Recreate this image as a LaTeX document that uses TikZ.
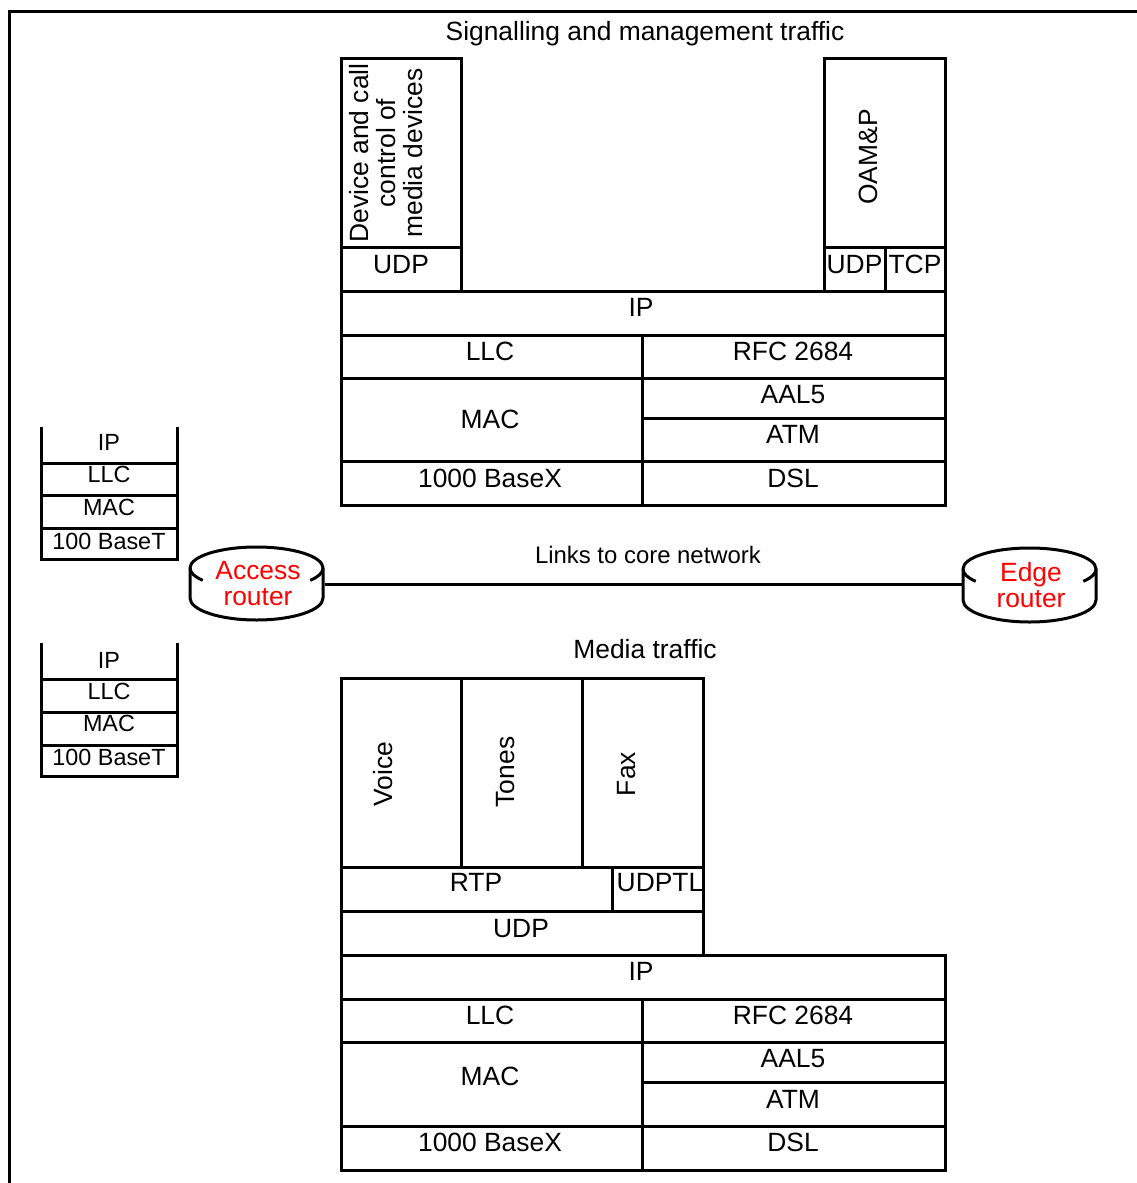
\documentclass[tikz,border=0pt]{standalone}
\usepackage{fontspec}
\setmainfont{Liberation Sans}
\begin{document}
\begin{tikzpicture}[x=1pt,y=-1pt,line width=3pt,
  lbl/.style={font=\fontsize{26.4}{27}\selectfont,inner sep=0pt,anchor=base},
  sml/.style={font=\fontsize{23.4}{26}\selectfont,inner sep=0pt,anchor=base},
  rot/.style={font=\fontsize{26.4}{27}\selectfont,inner sep=0pt,rotate=90,align=center},
  rtr/.style={font=\fontsize{26.4}{26}\selectfont,inner sep=0pt,text=red,align=center},
  cylbox/.style={minimum width=133pt,minimum height=76pt,inner sep=0pt}]
\useasboundingbox (0,0) rectangle (1137,1183);
% outer frame
\draw (9,1190) -- (9,11) -- (1145,11);

% ---------- top stack ----------
\node[lbl] (sigt) at (645,40.5) {Signalling and management traffic};
\draw (341,58) rectangle (461,291);
\draw (341,247) -- (461,247);
\draw (824,58) rectangle (945,291);
\draw (824,247) -- (945,247);
\draw (885,247) -- (885,291);
\draw (341,291) rectangle (945,505);
\draw (341,335) -- (945,335);
\draw (341,378) -- (945,378);
\draw (642,335) -- (642,505);
\draw (642,418) -- (945,418);
\draw (341,461) -- (945,461);
\node[rot] (dev) at (386,153) {Device and call\\control of\\media devices};
\node[rot] (oam) at (868,157) {OAM\&P};
\node[lbl] (udpa) at (401,273) {UDP};
\node[lbl] (udpb) at (854.5,273) {UDP};
\node[lbl] (tcpa) at (915,273) {TCP};
\node[lbl] (ipa) at (641,316.5) {IP};
\node[lbl] (llca) at (490,360.5) {LLC};
\node[lbl] (rfca) at (793,360.5) {RFC 2684};
\node[lbl] (aala) at (793,403.5) {AAL5};
\node[lbl] (maca) at (490,428.5) {MAC};
\node[lbl] (atma) at (793,443.5) {ATM};
\node[lbl] (gbea) at (490,487.5) {1000 BaseX};
\node[lbl] (dsla) at (793,487.5) {DSL};

% ---------- left stacks ----------
\draw (41,427) -- (41,559) -- (177,559) -- (177,427);
\draw (41,463) -- (177,463);
\draw (41,495) -- (177,495);
\draw (41,528) -- (177,528);
\node[sml] (lip1) at (109,450.5) {IP};
\node[sml] (lllc1) at (109,482.5) {LLC};
\node[sml] (lmac1) at (109,515.5) {MAC};
\node[sml] (lbt1) at (109,549.5) {100 BaseT};
\draw (41,643) -- (41,776) -- (177,776) -- (177,643);
\draw (41,679) -- (177,679);
\draw (41,712) -- (177,712);
\draw (41,745) -- (177,745);
\node[sml] (lip2) at (109,668.5) {IP};
\node[sml] (lllc2) at (109,699.5) {LLC};
\node[sml] (lmac2) at (109,731.5) {MAC};
\node[sml] (lbt2) at (109,765.5) {100 BaseT};

% ---------- routers ----------
\node[cylbox] (acc) at (256.5,584) {};
\draw (190,568) arc[start angle=180,end angle=0,x radius=66.5pt,y radius=21pt]
  -- (323,598) arc[start angle=0,end angle=-180,x radius=66.5pt,y radius=22pt] -- cycle;
\draw (190,568) arc[start angle=180,end angle=216,x radius=66.5pt,y radius=21pt];
\draw (323,568) arc[start angle=0,end angle=-36,x radius=66.5pt,y radius=21pt];
\node[rtr] (acct) at (258,584) {Access\\router};

\node[cylbox] (edg) at (1029.5,584) {};
\draw (963,569) arc[start angle=180,end angle=0,x radius=66.5pt,y radius=21pt]
  -- (1096,600) arc[start angle=0,end angle=-180,x radius=66.5pt,y radius=22pt] -- cycle;
\draw (963,569) arc[start angle=180,end angle=216,x radius=66.5pt,y radius=21pt];
\draw (1096,569) arc[start angle=0,end angle=-36,x radius=66.5pt,y radius=21pt];
\node[rtr] (edgt) at (1031,585) {Edge\\router};

\draw (acc.east) -- (edg.west);
\node[sml,font=\fontsize{23.9}{26}\selectfont] (links) at (648,563.5) {Links to core network};

% ---------- bottom stack ----------
\node[lbl] (medt) at (645,658) {Media traffic};
\draw (341,678) rectangle (703,955);
\draw (461,678) -- (461,867);
\draw (582,678) -- (582,867);
\draw (341,867) -- (703,867);
\draw (612,867) -- (612,911);
\draw (341,911) -- (703,911);
\draw (341,955) rectangle (945,1170);
\draw (341,999) -- (945,999);
\draw (341,1042) -- (945,1042);
\draw (642,999) -- (642,1170);
\draw (642,1082) -- (945,1082);
\draw (341,1126) -- (945,1126);
\node[rot] (voice) at (383,774) {Voice};
\node[rot] (tones) at (506,772) {Tones};
\node[rot] (fax) at (627,774) {Fax};
\node[lbl] (rtp) at (476,891.5) {RTP};
\node[lbl] (udptl) at (660,891.5) {UDPTL};
\node[lbl] (udpc) at (521,937.5) {UDP};
\node[lbl] (ipb) at (641,980.5) {IP};
\node[lbl] (llcb) at (490,1024.5) {LLC};
\node[lbl] (rfcb) at (793,1024.5) {RFC 2684};
\node[lbl] (aalb) at (793,1067.5) {AAL5};
\node[lbl] (macb) at (490,1085.5) {MAC};
\node[lbl] (atmb) at (793,1108.5) {ATM};
\node[lbl] (gbeb) at (490,1151.5) {1000 BaseX};
\node[lbl] (dslb) at (793,1151.5) {DSL};
\end{tikzpicture}
\end{document}
